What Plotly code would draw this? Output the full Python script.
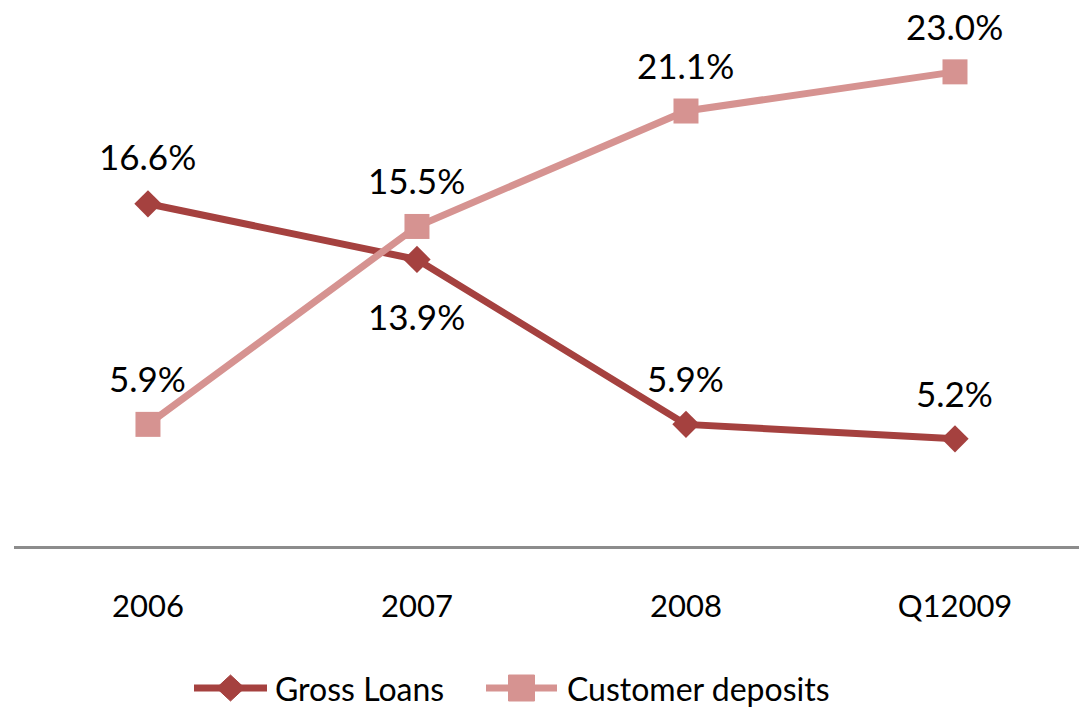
import plotly.graph_objects as go

# Growth rates by period
periods = ["2006", "2007", "2008", "Q12009"]
gross_loans = [16.6, 13.9, 5.9, 5.2]
customer_deposits = [5.9, 15.5, 21.1, 23.0]
series_names = ["Gross Loans", "Customer deposits"]

# Vertical offset (px) of each value label from its marker
gross_label_shift = [48, -57, 46, 46]
deposit_label_shift = [46, 46, 46, 46]

LOANS_COLOR = "#A5413F"
DEPOSITS_COLOR = "#D69391"
AXIS_COLOR = "#8C8C8C"
FONT = "Lato, Open Sans, sans-serif"

W, H = 1079, 709
M = dict(l=14, r=0, t=10, b=163)
plot_w = W - M["l"] - M["r"]
plot_h = H - M["t"] - M["b"]


def paper_x(px):
    return (px - M["l"]) / plot_w


def paper_y(py):
    return (H - M["b"] - py) / plot_h


fig = go.Figure()

fig.add_trace(go.Scatter(
    x=periods, y=gross_loans, name=series_names[0],
    mode="lines+markers",
    line=dict(color=LOANS_COLOR, width=7),
    marker=dict(symbol="diamond", size=21, color=LOANS_COLOR),
))
fig.add_trace(go.Scatter(
    x=periods, y=customer_deposits, name=series_names[1],
    mode="lines+markers",
    line=dict(color=DEPOSITS_COLOR, width=7),
    marker=dict(symbol="square", size=25, color=DEPOSITS_COLOR),
))

annotations = []
for series, shifts in ((gross_loans, gross_label_shift),
                       (customer_deposits, deposit_label_shift)):
    for i, (v, s) in enumerate(zip(series, shifts)):
        annotations.append(dict(
            x=i, xref="x", y=v, yref="y", text=f"{v:.1f}%",
            showarrow=False, yshift=s,
            font=dict(size=35, color="#000000", family=FONT),
        ))

# Legend drawn below the axis with long line swatches
shapes = []
leg_y = paper_y(688)
legend_items = [
    (series_names[0], LOANS_COLOR, "diamond", 194, 267, 273),
    (series_names[1], DEPOSITS_COLOR, "square", 486, 557, 565),
]
for name, color, sym, sx0, sx1, tx in legend_items:
    shapes.append(dict(
        type="line", xref="paper", yref="paper",
        x0=paper_x(sx0), x1=paper_x(sx1), y0=leg_y, y1=leg_y,
        line=dict(color=color, width=7),
    ))
    cx = paper_x((sx0 + sx1) / 2)
    if sym == "diamond":
        path = "M -14 0 L 0 -13 L 14 0 L 0 13 Z"
    else:
        path = "M -13 -13 L 13 -13 L 13 13 L -13 13 Z"
    shapes.append(dict(
        type="path", xref="paper", yref="paper",
        xsizemode="pixel", ysizemode="pixel",
        xanchor=cx, yanchor=leg_y, path=path,
        fillcolor=color, line=dict(color=color, width=1),
    ))
    annotations.append(dict(
        x=paper_x(tx), y=leg_y, xref="paper", yref="paper",
        xanchor="left", yanchor="middle", showarrow=False, text=name,
        font=dict(size=32, color="#000000", family=FONT),
    ))

fig.update_layout(
    width=W, height=H,
    margin=M,
    paper_bgcolor="white", plot_bgcolor="white",
    font=dict(family=FONT, color="#000000"),
    showlegend=False,
    annotations=annotations,
    shapes=shapes,
    xaxis=dict(
        type="category", range=[-0.498, 3.461],
        showline=True, linecolor=AXIS_COLOR, linewidth=3,
        showgrid=False, zeroline=False, ticks="",
        tickfont=dict(size=31, color="#000000", family=FONT),
        ticklabelstandoff=31,
    ),
    yaxis=dict(
        range=[0, 26], visible=False, showgrid=False, zeroline=False,
    ),
)

fig.write_html("out.html")
